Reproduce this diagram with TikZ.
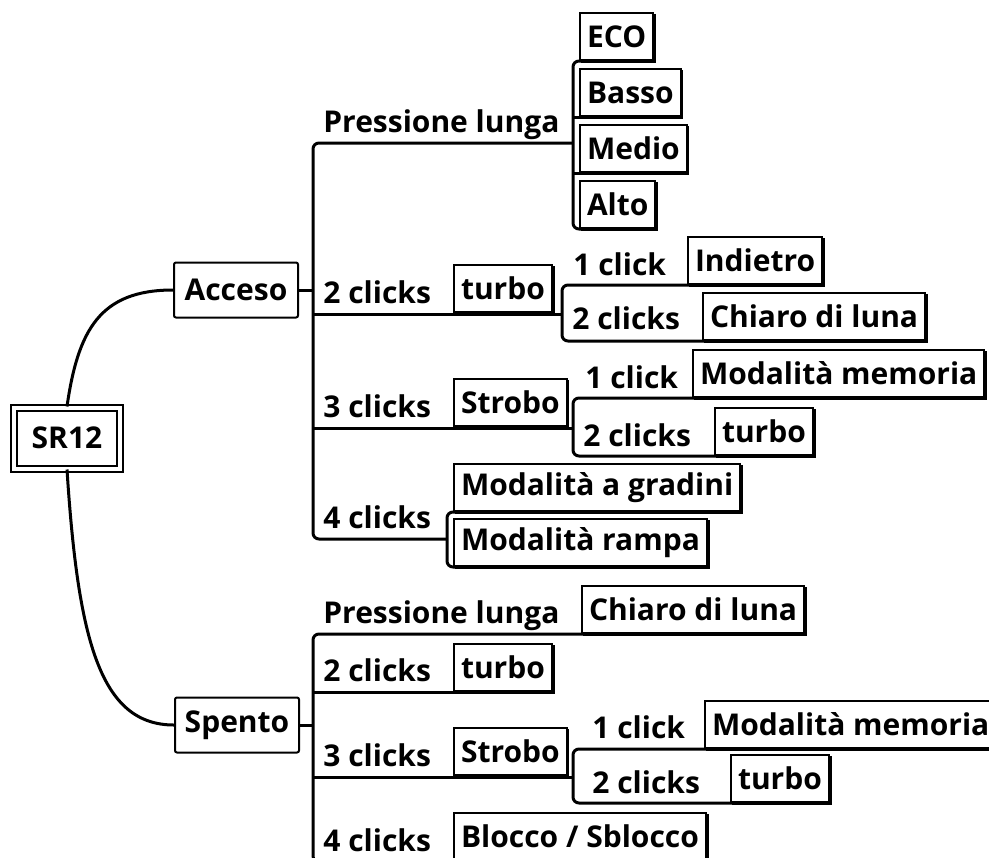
\documentclass[tikz,border=0pt]{standalone}
\usepackage{fontspec}
\setmainfont{Open Sans}
\usetikzlibrary{shadows}
\tikzstyle{root} = [rectangle, draw, double, double distance=2pt, line width=1pt, minimum width=53pt, minimum height=30.5pt]
\tikzstyle{main} = [rectangle, draw, line width=1pt, rounded corners=1pt, minimum width=62pt, minimum height=27.5pt]
\tikzstyle{block} = [rectangle, draw, fill=white, line width=1pt, inner xsep=3.5pt, minimum height=23.5pt, anchor=south west, copy shadow={shadow xshift=0.8pt, shadow yshift=-0.8pt, line width=1pt}]
\tikzstyle{lbl} = [anchor=base west, inner sep=0pt]
\tikzstyle{line} = [draw, line width=1.5pt, rounded corners=3pt]

\begin{document}
\begin{tikzpicture}[x=0.5pt, y=-0.5pt, font=\bfseries\fontsize{15}{18}\selectfont]
        \useasboundingbox (0,0) rectangle (989,857);

        \node[root] (00) at (67,438) {SR12};

        \node[main] (10) at (236,290) {Acceso};
        \path[line] (00.north) .. controls (78,330) and (100,290) .. (10.west);
        \coordinate (c10) at (313,290);
        \path[line] (10.east) -- (c10);

        \node[lbl] (11) at (323,132) {Pressione lunga};
        \node[block] (12) at (579,61) {ECO};
        \node[block] (13) at (579,117) {Basso};
        \node[block] (14) at (579,173) {Medio};
        \node[block] (15) at (579,229) {Alto};
        \coordinate (c11) at (313,143);
        \coordinate (c12) at (573,143);
        \path[line] (12.south east) -| (c12) |- (15.south east);
        \path[line] (c12 |- 13.south) -- (13.south east);
        \path[line] (c12 |- 14.south) -- (14.south east);

        \node[lbl] (16) at (323,303) {2 clicks};
        \node[block] (17) at (453,313) {turbo};
        \coordinate (c13) at (313,314);
        \coordinate (c14) at (562,314);
        \path[line] (c13) -- (c14);
        \node[lbl] (18) at (573,275) {1 click};
        \node[block] (19) at (687,285) {Indietro};
        \node[lbl] (20) at (572,329) {2 clicks};
        \node[block] (21) at (702,341) {Chiaro di luna};
        \path[line] (19.south east) -| (c14) |- (21.south east);

        \node[lbl] (22) at (323,417) {3 clicks};
        \node[block] (23) at (453,427) {Strobo};
        \coordinate (c15) at (313,428);
        \coordinate (c16) at (573,428);
        \path[line] (c15) -- (c16);
        \node[lbl] (24) at (585,388) {1 click};
        \node[block] (25) at (692,398) {Modalità memoria};
        \node[lbl] (26) at (583,446) {2 clicks};
        \node[block] (27) at (714,456) {turbo};
        \path[line] (25.south east) -| (c16) |- (27.south east);

        \node[lbl] (28) at (323,528) {4 clicks};
        \node[block] (29) at (453,512) {Modalità a gradini};
        \node[block] (30) at (453,567) {Modalità rampa};
        \coordinate (c17) at (313,539);
        \coordinate (c18) at (447,539);
        \path[line] (29.south east) -| (c18) |- (30.south east);
        \path[line] (c12) -- (c11) -- (c17) -- (c18);

        \node[main] (40) at (237,725) {Spento};
        \path[line] (00.south) .. controls (78,640) and (100,725) .. (40.west);
        \coordinate (c40) at (313,725);
        \path[line] (40.east) -- (c40);

        \node[lbl] (41) at (323,623) {Pressione lunga};
        \node[block] (42) at (581,634) {Chiaro di luna};
        \coordinate (c41) at (313,634);

        \node[lbl] (43) at (323,681) {2 clicks};
        \node[block] (44) at (453,692) {turbo};
        \coordinate (c42) at (313,692);
        \path[line] (c42) -- (44.south east);

        \node[lbl] (45) at (323,766) {3 clicks};
        \node[block] (46) at (453,776) {Strobo};
        \coordinate (c43) at (313,777);
        \coordinate (c44) at (573,777);
        \path[line] (c43) -- (c44);
        \node[lbl] (47) at (592,738) {1 click};
        \node[block] (48) at (704,749) {Modalità memoria};
        \node[lbl] (49) at (592,793) {2 clicks};
        \node[block] (50) at (730,803) {turbo};
        \path[line] (48.south east) -| (c44) |- (50.south east);

        \node[lbl] (51) at (323,851) {4 clicks};
        \node[block] (52) at (453,861) {Blocco / Sblocco};
        \coordinate (c45) at (313,862);
        \path[line] (42.south east) -- (c41) -- (c45) -- (52.south east);
    \end{tikzpicture}
\end{document}
